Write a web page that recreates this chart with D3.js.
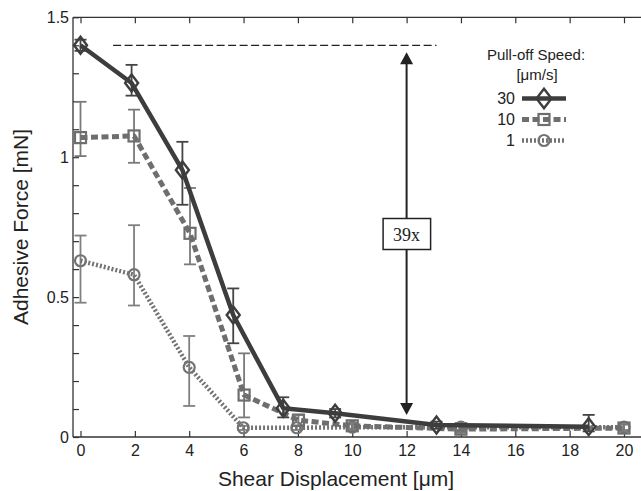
<!DOCTYPE html>
<html><head><meta charset="utf-8">
<script src="https://cdn.jsdelivr.net/npm/d3@7"></script>
<style>body{margin:0;background:#fff}svg{display:block}</style>
</head><body>
<svg id="c" width="641" height="491"></svg>
<script>
// ---- data ----
const xTicks = [0,2,4,6,8,10,12,14,16,18,20];
const yTicksMajor = [0,0.5,1,1.5];
const yTicksMinor = [0,0.1,0.2,0.3,0.4,0.5,0.6,0.7,0.8,0.9,1,1.1,1.2,1.3,1.4,1.5];
const legendTitle = ["Pull-off Speed:", "[\u03bcm/s]"];
const seriesNames = ["30","10","1"];

const x30 = [0, 1.88, 3.75, 5.62, 7.46, 9.37, 13.1, 18.7];
const y30 = [1.40, 1.265, 0.954, 0.436, 0.103, 0.085, 0.043, 0.037];
const lo30 = [1.38, 1.22, 0.83, 0.335, 0.07, 0.07, 0.03, 0.02];
const hi30 = [1.42, 1.33, 1.055, 0.531, 0.142, 0.10, 0.055, 0.079];

const x10 = [0, 1.97, 4.03, 6.02, 8.02, 10, 14, 20];
const y10 = [1.07, 1.076, 0.728, 0.15, 0.06, 0.04, 0.028, 0.032];
const lo10 = [1.004, 0.98, 0.617, 0.07, 0.04, 0.03, 0.015, 0.02];
const hi10 = [1.198, 1.17, 0.89, 0.299, 0.08, 0.05, 0.05, 0.045];

const x1 = [0, 1.97, 4.0, 5.99, 7.96, 10, 14, 20];
const y1 = [0.63, 0.58, 0.249, 0.033, 0.033, 0.035, 0.035, 0.035];
const lo1 = [0.48, 0.47, 0.111, 0.025, 0.025, 0.025, 0.025, 0.025];
const hi1 = [0.72, 0.757, 0.361, 0.04, 0.04, 0.045, 0.045, 0.045];

const refLevel = 1.40, refX = [1.2, 13.1];
const arrowX = 12, arrowTop = 1.375, arrowBottom = 0.079;
const ratioLabel = "39x";

// ---- drawing ----
const svg = d3.select("#c");
const x = d3.scaleLinear().domain([0,20]).range([80.5,624]);
const y = d3.scaleLinear().domain([0,1.5]).range([437,17.3]);
const axisCol = "#333";
const fontSans = "'Liberation Sans', Arial, sans-serif";

// frame lines (left, bottom, top)
svg.append("line").attr("x1",73).attr("x2",73).attr("y1",y(0)).attr("y2",y(1.5)).attr("stroke",axisCol).attr("stroke-width",1.3);
svg.append("line").attr("x1",73).attr("x2",641).attr("y1",y(0)).attr("y2",y(0)).attr("stroke",axisCol).attr("stroke-width",1.3);
svg.append("line").attr("x1",73).attr("x2",641).attr("y1",y(1.5)).attr("y2",y(1.5)).attr("stroke",axisCol).attr("stroke-width",1.3);

// bottom axis
const xAx = svg.append("g").attr("transform",`translate(0,${y(0)})`)
  .call(d3.axisBottom(x).tickValues(xTicks).tickSizeInner(-6).tickSizeOuter(0).tickPadding(8));
xAx.select(".domain").remove();
xAx.selectAll("line").attr("stroke",axisCol).attr("stroke-width",1.2);
xAx.selectAll("text").attr("font-family",fontSans).attr("font-size",16).attr("fill","#222");
// top ticks
const xTop = svg.append("g").attr("transform",`translate(0,${y(1.5)})`)
  .call(d3.axisTop(x).tickValues(xTicks).tickSizeInner(-6).tickSizeOuter(0).tickFormat(""));
xTop.select(".domain").remove();
xTop.selectAll("line").attr("stroke",axisCol).attr("stroke-width",1.2);

// left axis
const yMinor = svg.append("g").attr("transform","translate(73,0)")
  .call(d3.axisLeft(y).tickValues(yTicksMinor).tickSizeInner(-6).tickSizeOuter(0).tickFormat(""));
yMinor.select(".domain").remove();
yMinor.selectAll("line").attr("stroke",axisCol).attr("stroke-width",1.2);
const yAx = svg.append("g").attr("transform","translate(73,0)")
  .call(d3.axisLeft(y).tickValues(yTicksMajor).tickSize(0).tickPadding(4).tickFormat(d3.format("~g")));
yAx.select(".domain").remove();
yAx.selectAll("text").attr("font-family",fontSans).attr("font-size",16).attr("fill","#222");

// axis titles
svg.append("text").attr("x",336).attr("y",486).attr("text-anchor","middle")
  .attr("font-family",fontSans).attr("font-size",21).attr("fill","#222").text("Shear Displacement [\u03bcm]");
svg.append("text").attr("transform","translate(28,227) rotate(-90)").attr("text-anchor","middle")
  .attr("font-family",fontSans).attr("font-size",21).attr("fill","#222").text("Adhesive Force [mN]");

// reference dashed line
svg.append("line").attr("x1",x(refX[0])).attr("x2",x(refX[1])).attr("y1",y(refLevel)).attr("y2",y(refLevel))
  .attr("stroke","#222").attr("stroke-width",1.3).attr("stroke-dasharray","8,3.5");

// series definitions
const series = [
  {name:"1", xs:x1, ys:y1, lo:lo1, hi:hi1, color:"#737373", errColor:"#808080", width:4.5, dash:"2,2", marker:"circle"},
  {name:"10", xs:x10, ys:y10, lo:lo10, hi:hi10, color:"#6e6e6e", errColor:"#7a7a7a", width:5, dash:"7,3.5", marker:"square"},
  {name:"30", xs:x30, ys:y30, lo:lo30, hi:hi30, color:"#3d3d3d", errColor:"#444", width:4.5, dash:null, marker:"diamond"}
];

function drawMarker(g, type, cx, cy, color, s) {
  s = s || 1;
  if (type==="circle") {
    g.append("circle").attr("cx",cx).attr("cy",cy).attr("r",5.5*s).attr("fill","none").attr("stroke",color).attr("stroke-width",2.2);
  } else if (type==="square") {
    g.append("rect").attr("x",cx-5.5*s).attr("y",cy-5.5*s).attr("width",11*s).attr("height",11*s).attr("fill","none").attr("stroke",color).attr("stroke-width",2.2);
  } else {
    const w=6.5*s, h=8.5*s;
    g.append("path").attr("d",`M${cx},${cy-h}L${cx+w},${cy}L${cx},${cy+h}L${cx-w},${cy}Z`).attr("fill","none").attr("stroke",color).attr("stroke-width",2.4);
  }
}

const line = d3.line().x(d=>x(d[0])).y(d=>y(d[1]));
series.forEach(s=>{
  const g = svg.append("g");
  s.xs.forEach((xv,i)=>{
    const cx = x(xv);
    g.append("line").attr("x1",cx).attr("x2",cx).attr("y1",y(s.lo[i])).attr("y2",y(s.hi[i])).attr("stroke",s.errColor).attr("stroke-width",1.8);
    [s.lo[i], s.hi[i]].forEach(v=>g.append("line").attr("x1",cx-6).attr("x2",cx+6).attr("y1",y(v)).attr("y2",y(v)).attr("stroke",s.errColor).attr("stroke-width",1.8));
  });
  const pts = s.xs.map((xv,i)=>[xv,s.ys[i]]);
  g.append("path").attr("d",line(pts)).attr("fill","none").attr("stroke",s.color).attr("stroke-width",s.width)
    .attr("stroke-dasharray",s.dash).attr("stroke-linejoin","round");
  pts.forEach(p=>drawMarker(g, s.marker, x(p[0]), y(p[1]), s.color));
});

// double arrow
const ax = x(arrowX);
svg.append("line").attr("x1",ax).attr("x2",ax).attr("y1",y(arrowTop)+10).attr("y2",y(arrowBottom)-10).attr("stroke","#222").attr("stroke-width",2);
svg.append("path").attr("d",`M${ax},${y(arrowTop)}l-6.5,12h13Z`).attr("fill","#222");
svg.append("path").attr("d",`M${ax},${y(arrowBottom)}l-6.5,-12h13Z`).attr("fill","#222");
svg.append("rect").attr("x",ax-23.5).attr("y",218.5).attr("width",47.5).attr("height",31).attr("fill","#fff").attr("stroke","#222").attr("stroke-width",1.5);
svg.append("text").attr("x",ax).attr("y",240.5).attr("text-anchor","middle").attr("font-family","'Liberation Serif', 'Times New Roman', serif")
  .attr("font-size",18).attr("fill","#222").text(ratioLabel);

// legend
svg.append("text").attr("x",536).attr("y",60).attr("text-anchor","middle").attr("font-family",fontSans).attr("font-size",15).attr("fill","#222").text(legendTitle[0]);
svg.append("text").attr("x",537).attr("y",80).attr("text-anchor","middle").attr("font-family",fontSans).attr("font-size",15).attr("fill","#222").text(legendTitle[1]);
const legOrder = [series[2], series[1], series[0]];
legOrder.forEach((s,i)=>{
  const cy = 98.5 + i*21;
  svg.append("text").attr("x",515).attr("y",cy+5.5).attr("text-anchor","end").attr("font-family",fontSans).attr("font-size",16).attr("fill","#222").text(seriesNames[i]);
  svg.append("line").attr("x1",522).attr("x2",566).attr("y1",cy).attr("y2",cy).attr("stroke",s.color).attr("stroke-width",s.width)
    .attr("stroke-dasharray",s.dash);
  drawMarker(svg, s.marker, 544, cy, s.color, i===0?1.15:1);
});
</script>
</body></html>
